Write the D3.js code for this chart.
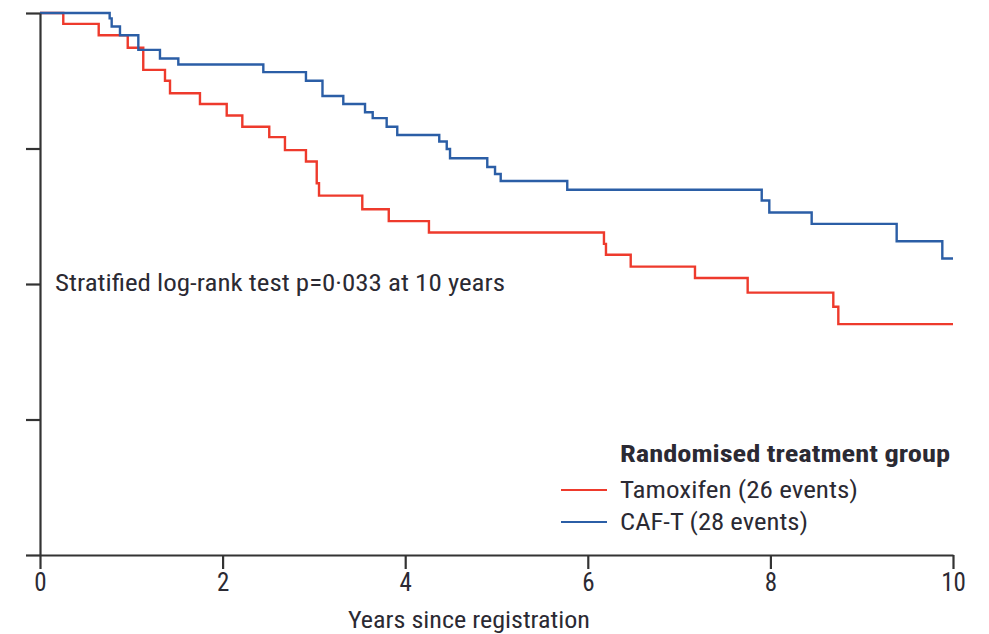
<!DOCTYPE html>
<html>
<head>
<meta charset="utf-8">
<script src="https://cdn.jsdelivr.net/npm/d3@7"></script>
<style>
  body { margin: 0; background: #fff; }
  svg text { font-family: "Liberation Sans Narrow", "Roboto Condensed", "Liberation Sans", sans-serif; fill: #2b2a33; }
</style>
</head>
<body>
<div id="chart"></div>
<script>
// Kaplan-Meier steps: time of each event (years) and survival (%) after it
const tamoxifenTime = [0, 0.255, 0.643, 0.961, 1.131, 1.369, 1.424, 1.752, 2.045, 2.216, 2.511, 2.683, 2.913, 3.031, 3.056, 3.53, 3.82, 4.26, 6.177, 6.199, 6.47, 7.174, 7.751, 8.689, 8.744, 10];
const tamoxifenSurv = [100, 98.0, 95.9, 93.6, 89.5, 87.5, 85.2, 83.2, 81.1, 79.0, 77.1, 74.7, 72.6, 68.6, 66.3, 63.8, 61.6, 59.5, 57.4, 55.4, 53.2, 51.1, 48.4, 45.8, 42.6, 42.6];
const cafTime = [0, 0.763, 0.785, 0.876, 1.077, 1.314, 1.515, 2.446, 2.913, 3.094, 3.322, 3.56, 3.644, 3.797, 3.913, 4.373, 4.455, 4.491, 4.899, 4.984, 5.046, 5.775, 7.905, 7.988, 8.452, 9.383, 9.883, 10];
const cafSurv = [100, 99.0, 97.5, 95.9, 93.2, 91.6, 90.5, 89.1, 87.5, 84.7, 83.2, 81.7, 80.6, 79.0, 77.5, 76.3, 74.9, 73.2, 71.6, 70.3, 69.0, 67.4, 65.4, 63.2, 61.1, 57.9, 54.7, 54.7];

const xTicks = [0, 2, 4, 6, 8, 10];
const yTicks = [0, 25, 50, 75, 100];

const groups = [
  { name: "Tamoxifen (26 events)", color: "#ee3a2c", time: tamoxifenTime, surv: tamoxifenSurv, len: 238 },
  { name: "CAF-T (28 events)", color: "#2b5ea6", time: cafTime, surv: cafSurv, len: 188 }
];

const width = 989, height = 634;
const margin = { top: 13, right: 36, bottom: 79, left: 40 };

const svg = d3.select("#chart")
  .append("svg")
  .attr("width", width)
  .attr("height", height);

const x = d3.scaleLinear().domain([0, 10]).range([margin.left, width - margin.right]);
const y = d3.scaleLinear().domain([0, 100]).range([height - margin.bottom, margin.top]);

// curves
const line = d3.line()
  .x(d => x(d[0]))
  .y(d => y(d[1]))
  .curve(d3.curveStepAfter);

groups.forEach(g => {
  svg.append("path")
    .datum(d3.zip(g.time, g.surv))
    .attr("fill", "none")
    .attr("stroke", g.color)
    .attr("stroke-width", 2.4)
    .attr("d", line);
});

// axes
const xAxis = svg.append("g")
  .attr("transform", "translate(0," + y(0) + ")")
  .call(d3.axisBottom(x).tickValues(xTicks).tickSize(14).tickSizeOuter(0).tickPadding(4));
xAxis.selectAll("text").style("font-size", "25px");

const yAxis = svg.append("g")
  .attr("transform", "translate(" + x(0) + ",0)")
  .call(d3.axisLeft(y).tickValues(yTicks).tickSize(14).tickSizeOuter(0).tickFormat(""));

svg.selectAll(".domain, .tick line")
  .attr("stroke", "#333")
  .attr("stroke-width", 2.2);

svg.append("text")
  .attr("x", 348)
  .attr("y", 628)
  .attr("textLength", 242)
  .attr("lengthAdjust", "spacingAndGlyphs")
  .style("font-size", "24px")
  .text("Years since registration");

// annotation
svg.append("text")
  .attr("x", 55)
  .attr("y", 291)
  .attr("textLength", 450)
  .attr("lengthAdjust", "spacingAndGlyphs")
  .style("font-size", "24px")
  .text("Stratified log-rank test p=0\u00b7033 at 10 years");

// legend
const legend = svg.append("g").attr("transform", "translate(561,0)");
legend.append("text")
  .attr("x", 59)
  .attr("y", 462)
  .attr("textLength", 330)
  .attr("lengthAdjust", "spacingAndGlyphs")
  .style("font-size", "24px")
  .style("font-weight", "bold")
  .text("Randomised treatment group");

groups.forEach((g, i) => {
  const yy = 490 + i * 32;
  legend.append("line")
    .attr("x1", 0).attr("x2", 46)
    .attr("y1", yy).attr("y2", yy)
    .attr("stroke", g.color)
    .attr("stroke-width", 2);
  legend.append("text")
    .attr("x", 59)
    .attr("y", yy + 8)
    .attr("textLength", g.len)
    .attr("lengthAdjust", "spacingAndGlyphs")
    .style("font-size", "24px")
    .text(g.name);
});
</script>
</body>
</html>
